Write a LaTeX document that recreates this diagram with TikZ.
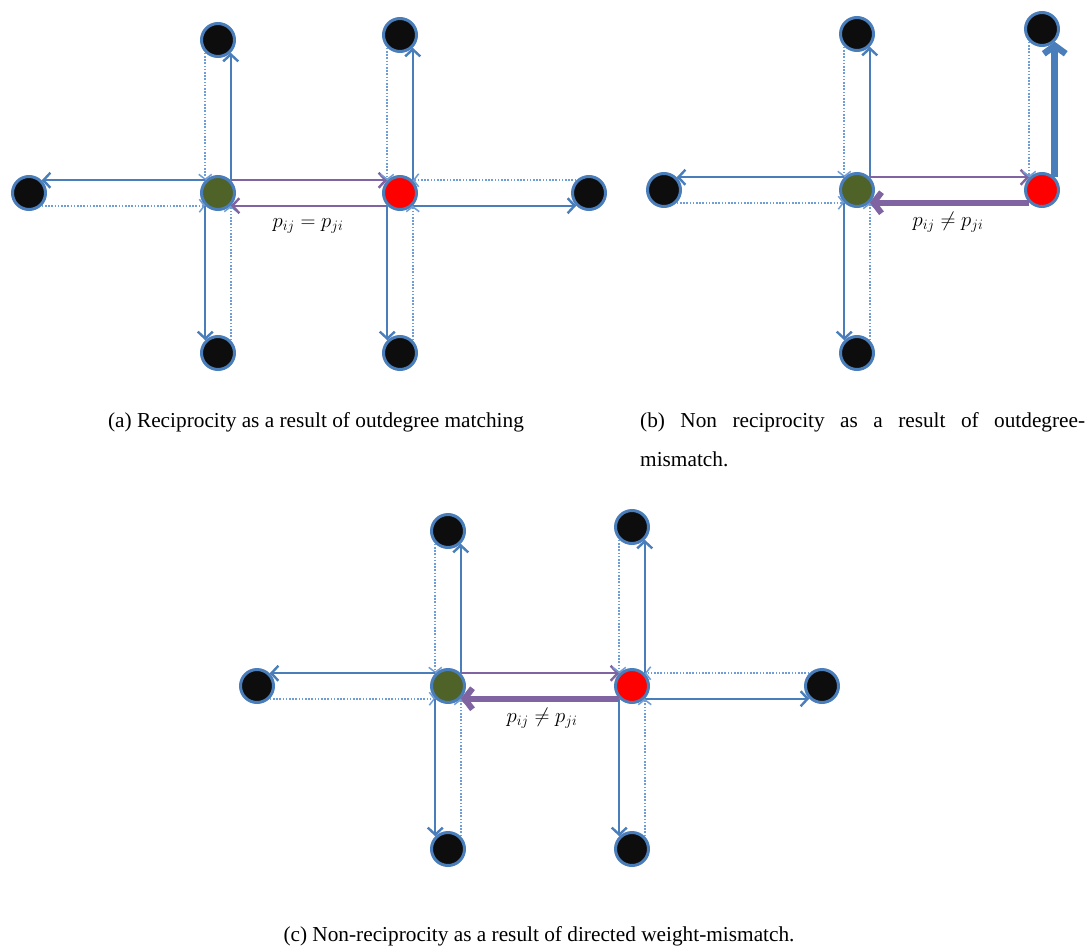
\documentclass[tikz,border=0pt]{standalone}
\usepackage{fontspec}
\setmainfont{Liberation Serif}
\usetikzlibrary{arrows.meta}
\definecolor{lnblue}{HTML}{4A7EBB}
\definecolor{dotblue}{HTML}{6F9DD6}
\definecolor{purp}{HTML}{8064A2}
\definecolor{nblack}{HTML}{0D0D0D}
\definecolor{ngreen}{HTML}{4F6228}
\definecolor{nred}{HTML}{FF0000}
\definecolor{nborder}{HTML}{4A7EBB}
\begin{document}
\begin{tikzpicture}[x=1pt,y=-1pt,
  vtx/.style={circle,draw=nborder,line width=3pt,minimum size=33pt,inner sep=0pt},
  blk/.style={vtx,fill=nblack},
  grn/.style={vtx,fill=ngreen},
  rd/.style={vtx,fill=nred},
  solarr/.style={draw=lnblue,line width=2.4pt,-{Straight Barb[length=7pt,width=15pt]}},
  dotarr/.style={draw=dotblue,line width=1.7pt,dash pattern=on 1.7pt off 1.5pt,-{Straight Barb[length=5pt,width=13pt,line width=1.5pt]}},
  purarr/.style={draw=purp,line width=2.4pt,-{Straight Barb[length=7pt,width=15pt]}},
  purthick/.style={draw=purp,line width=6pt,-{Straight Barb[length=8pt,width=21pt]}},
  bluethick/.style={draw=lnblue,line width=6.5pt,-{Straight Barb[length=8pt,width=22pt]}},
  lbl/.style={font=\fontsize{20.5}{24}\selectfont,inner sep=0pt},
  captxt/.style={font=\fontsize{21.3}{26}\selectfont,inner sep=0pt,anchor=base}
]
\useasboundingbox (0,0) rectangle (1087,950);

% ---------------- panel (a) ----------------
\node[grn] (ga) at (218,193) {};
\node[rd]  (ra) at (400,193) {};
\node[blk] (at1) at (218,40) {};
\node[blk] (at2) at (400,35) {};
\node[blk] (al) at (29,193) {};
\node[blk] (ar) at (589,193) {};
\node[blk] (ab1) at (218,353) {};
\node[blk] (ab2) at (400,353) {};

\draw[solarr] (ga.north east) -- (at1.south east);
\draw[dotarr] (at1.south west) -- (ga.north west);
\draw[solarr] (ga.north west) -- (al.north east);
\draw[dotarr] (al.south east) -- (ga.south west);
\draw[solarr] (ga.south west) -- (ab1.north west);
\draw[dotarr] (ab1.north east) -- (ga.south east);
\draw[purarr] (ga.north east) -- (ra.north west);
\draw[purarr] (ra.south west) -- (ga.south east);
\draw[dotarr] (at2.south west) -- (ra.north west);
\draw[solarr] (ra.north east) -- (at2.south east);
\draw[dotarr] (ar.north west) -- (ra.north east);
\draw[solarr] (ra.south east) -- (ar.south west);
\draw[solarr] (ra.south west) -- (ab2.north west);
\draw[dotarr] (ab2.north east) -- (ra.south east);

\node[lbl] (la) at (308,226) {$p_{ij} = p_{ji}$};
\node[captxt] (capa) at (316,427) {(a) Reciprocity as a result of outdegree matching};

% ---------------- panel (b) ----------------
\node[grn] (gb) at (857,190) {};
\node[rd]  (rb) at (1042,190) {};
\node[blk] (bt1) at (857,34) {};
\node[blk] (bt2) at (1042,29) {};
\node[blk] (bl) at (664,190) {};
\node[blk] (bb1) at (857,353) {};

\draw[solarr] (gb.north east) -- (bt1.south east);
\draw[dotarr] (bt1.south west) -- (gb.north west);
\draw[solarr] (gb.north west) -- (bl.north east);
\draw[dotarr] (bl.south east) -- (gb.south west);
\draw[solarr] (gb.south west) -- (bb1.north west);
\draw[dotarr] (bb1.north east) -- (gb.south east);
\draw[purarr] (gb.north east) -- (rb.north west);
\draw[purthick] (rb.south west) -- (gb.south east);
\draw[dotarr] (bt2.south west) -- (rb.north west);
\draw[bluethick] (rb.north east) -- (bt2.south east);

\node[lbl] (lb) at (948,222) {$p_{ij} \neq p_{ji}$};
\node[captxt,anchor=base west] (capb1) at (640,427) {\makebox[445pt][s]{(b) Non reciprocity as a result of outdegree-}};
\node[captxt,anchor=base west] (capb2) at (640,466) {mismatch.};

% ---------------- panel (c) ----------------
\node[grn] (gc) at (448,686) {};
\node[rd]  (rc) at (632,686) {};
\node[blk] (ct1) at (448,531) {};
\node[blk] (ct2) at (632,527) {};
\node[blk] (cl) at (257,686) {};
\node[blk] (cr) at (822,686) {};
\node[blk] (cb1) at (448,849) {};
\node[blk] (cb2) at (632,849) {};

\draw[solarr] (gc.north east) -- (ct1.south east);
\draw[dotarr] (ct1.south west) -- (gc.north west);
\draw[solarr] (gc.north west) -- (cl.north east);
\draw[dotarr] (cl.south east) -- (gc.south west);
\draw[solarr] (gc.south west) -- (cb1.north west);
\draw[dotarr] (cb1.north east) -- (gc.south east);
\draw[purarr] (gc.north east) -- (rc.north west);
\draw[purthick] (rc.south west) -- (gc.south east);
\draw[dotarr] (ct2.south west) -- (rc.north west);
\draw[solarr] (rc.north east) -- (ct2.south east);
\draw[dotarr] (cr.north west) -- (rc.north east);
\draw[solarr] (rc.south east) -- (cr.south west);
\draw[solarr] (rc.south west) -- (cb2.north west);
\draw[dotarr] (cb2.north east) -- (rc.south east);

\node[lbl] (lc) at (542,718) {$p_{ij} \neq p_{ji}$};
\node[captxt] (capc) at (539,941) {(c) Non-reciprocity as a result of directed weight-mismatch.};
\end{tikzpicture}
\end{document}
